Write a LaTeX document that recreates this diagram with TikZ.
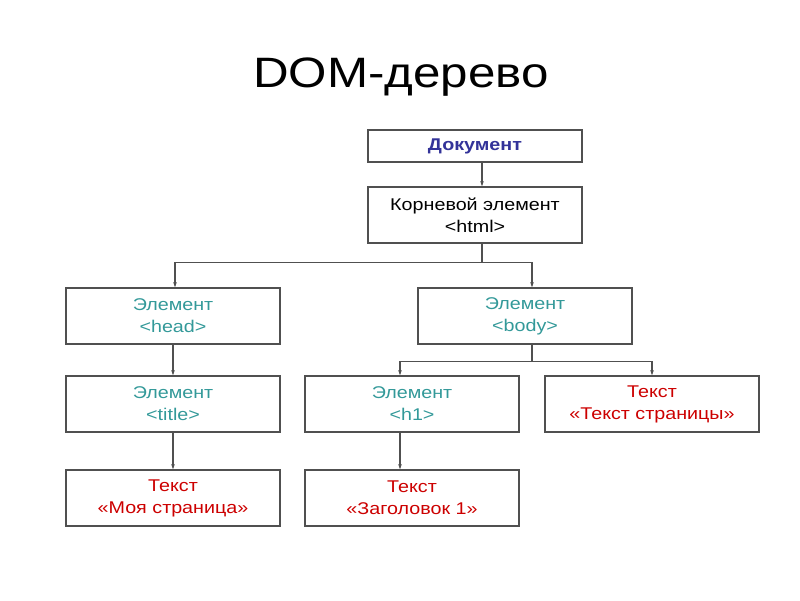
\documentclass[tikz,border=0pt]{standalone}
\usepackage{fontspec}
\setmainfont[FakeStretch=1.16]{Liberation Sans}
\usetikzlibrary{arrows.meta}
\definecolor{docblue}{RGB}{51,51,153}
\definecolor{elteal}{RGB}{51,153,153}
\definecolor{txtred}{RGB}{204,0,0}
\definecolor{linegray}{RGB}{80,80,80}
\tikzset{
  box/.style={draw=linegray, line width=1.5pt, rectangle, minimum width=214pt, inner sep=0pt, align=center, font=\fontsize{17}{22}\selectfont},
  tall/.style={box, minimum height=56pt},
  eltext/.style={text=elteal},
  rtext/.style={text=txtred},
  conn/.style={draw=linegray, line width=1.2pt, -{Stealth[length=5pt,width=3.5pt]}},
  plain/.style={draw=linegray, line width=1.2pt}
}
\begin{document}
\begin{tikzpicture}[x=1pt,y=-1pt]
\useasboundingbox (0,0) rectangle (800,600);
\node[anchor=base, font=\fontsize{42.5}{50}\selectfont] (ttl) at (401,87) {DOM-дерево};
\node[box, minimum height=32pt, text=docblue, font=\fontsize{17}{22}\selectfont\bfseries] (doc) at (475,146) {Документ};
\node[tall] (root) at (475,215) {Корневой элемент\\<html>};
\node[tall, eltext] (head) at (173,316) {Элемент\\<head>};
\node[tall, eltext] (body) at (525,316) {Элемент\\<body>};
\node[tall, eltext] (title) at (173,404) {Элемент\\<title>};
\node[tall, eltext] (h1) at (412,404) {Элемент\\<h1>};
\node[tall, rtext] (txt) at (652,404) {Текст\\«Текст страницы»};
\node[tall, rtext] (moya) at (173,498) {Текст\\«Моя страница»};
\node[tall, rtext] (zag) at (412,498) {Текст\\«Заголовок 1»};
\draw[conn] ([xshift=7pt]doc.south) -- ([xshift=7pt]root.north);
\draw[plain] ([xshift=7pt]root.south) -- ++(0,19) coordinate (rj);
\draw[conn] (rj) -| ([xshift=2pt]head.north);
\draw[conn] (rj) -| ([xshift=7pt]body.north);
\draw[plain] ([xshift=7pt]body.south) -- ++(0,17) coordinate (bj);
\draw[conn] (bj) -| ([xshift=-12pt]h1.north);
\draw[conn] (bj) -| (txt.north);
\draw[conn] (head.south) -- (title.north);
\draw[conn] (title.south) -- (moya.north);
\draw[conn] ([xshift=-12pt]h1.south) -- ([xshift=-12pt]zag.north);
\end{tikzpicture}
\end{document}
